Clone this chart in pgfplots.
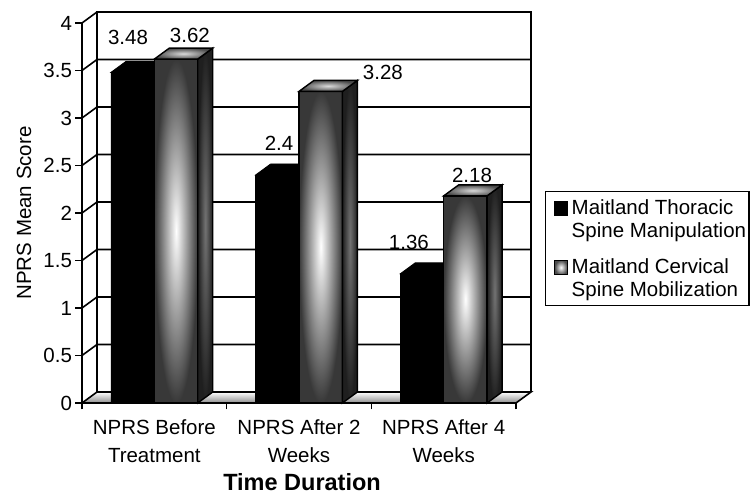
\documentclass[border=0pt]{standalone}
\usepackage{fontspec}
\setmainfont{Liberation Sans}
\usepackage{pgfplots}
\pgfplotsset{compat=1.18}
\begin{document}
\begin{tikzpicture}[x=1pt,y=1pt]
\path[use as bounding box] (0,0) rectangle (755,495);
\begin{axis}[
  at={(82pt,92pt)}, anchor=south west,
  scale only axis, width=434pt, height=380pt,
  xmin=0, xmax=3, ymin=0, ymax=4,
  clip=false,
  axis lines=left,
  axis line style={-, line width=1.6pt},
  tick style={line width=1.6pt, black},
  tick align=outside,
  major tick length=6.5pt,
  xtick={0,1,2,3},
  x tick label as interval,
  xticklabels={{NPRS Before\\Treatment},{NPRS After 2\\Weeks},{NPRS After 4\\Weeks}},
  xticklabel style={align=center, font=\fontsize{20.5}{28}\selectfont, yshift=-7pt},
  ytick={0,0.5,1,1.5,2,2.5,3,3.5,4},
  yticklabel style={font=\fontsize{20.5}{24}\selectfont},
  /pgf/number format/assume math mode=true,
  xlabel={Time Duration},
  every axis x label/.style={at={(axis description cs:0.507,-0.2295)}, anchor=base, inner sep=0pt, font=\bfseries\fontsize{23.5}{28}\selectfont},
  ylabel={NPRS Mean Score},
  every axis y label/.style={at={(axis description cs:-0.1336,0.5)}, rotate=90, anchor=center, font=\fontsize{20.5}{24}\selectfont},
  legend style={at={(axis description cs:1.0668,0.5579)}, anchor=north west, draw=black, line width=1.5pt,
    font=\fontsize{20.5}{22.6}\selectfont, cells={align=left}, row sep=16pt, inner xsep=1pt, inner ysep=6pt},
  legend cell align=left,
]
% walls
\draw[line width=1.6pt] (axis cs:0.1037,0.1158) -- (axis cs:0.1037,4.1158) -- (axis cs:3.1037,4.1158) -- (axis cs:3.1037,0.1158);
\draw[line width=1.6pt] (axis cs:0,4) -- (axis cs:0.1037,4.1158);
\draw[line width=1.6pt] (axis cs:0,0.5) -- (axis cs:0.1037,0.6158) -- (axis cs:3.1037,0.6158);
\draw[line width=1.6pt] (axis cs:0,1.0) -- (axis cs:0.1037,1.1158) -- (axis cs:3.1037,1.1158);
\draw[line width=1.6pt] (axis cs:0,1.5) -- (axis cs:0.1037,1.6158) -- (axis cs:3.1037,1.6158);
\draw[line width=1.6pt] (axis cs:0,2.0) -- (axis cs:0.1037,2.1158) -- (axis cs:3.1037,2.1158);
\draw[line width=1.6pt] (axis cs:0,2.5) -- (axis cs:0.1037,2.6158) -- (axis cs:3.1037,2.6158);
\draw[line width=1.6pt] (axis cs:0,3.0) -- (axis cs:0.1037,3.1158) -- (axis cs:3.1037,3.1158);
\draw[line width=1.6pt] (axis cs:0,3.5) -- (axis cs:0.1037,3.6158) -- (axis cs:3.1037,3.6158);
% floor
\addplot[draw=black, line width=1.6pt, top color=white, bottom color=black!45, forget plot] coordinates {(0,0) (0.1037,0.1158) (3.1037,0.1158) (3,0)} -- cycle;

% series 1: black
\addplot[ybar, bar width=0.3, bar shift=-0.15, fill=black, draw=black, line width=0.8pt,
  legend image code/.code={\pgfpathrectanglecorners{\pgfpoint{0pt}{3.5pt}}{\pgfpoint{23pt}{18pt}}\pgfusepath{discard}\draw[black, fill=black, line width=0.6pt] (8pt,3.5pt) rectangle (20.5pt,18pt);}]
  coordinates {(0.5,3.48) (1.5,2.4) (2.5,1.36)};
\addlegendentry{Maitland Thoracic\\Spine Manipulation}
\addplot[fill=black, draw=black, line width=0.8pt, forget plot] coordinates {(0.2,3.48) (0.3037,3.5958) (0.6037,3.5958) (0.5,3.48)} -- cycle;
\addplot[fill=black, draw=black, line width=0.8pt, forget plot] coordinates {(1.2,2.4) (1.3037,2.5158) (1.6037,2.5158) (1.5,2.4)} -- cycle;
\addplot[fill=black, draw=black, line width=0.8pt, forget plot] coordinates {(2.2,1.36) (2.3037,1.4758) (2.6037,1.4758) (2.5,1.36)} -- cycle;

% series 2: gradient grey (one plot per bar so each bar gets its own shading)
\addplot[ybar, bar width=0.3, bar shift=0.15, draw=black, line width=1.4pt, shading=radial, inner color=white, outer color=black!78,
  legend image code/.code={\pgfpathrectanglecorners{\pgfpoint{0pt}{3.5pt}}{\pgfpoint{23pt}{18pt}}\pgfusepath{discard}\draw[black, line width=0.8pt, shading=radial, inner color=white, outer color=black!70] (8pt,3.5pt) rectangle (20.5pt,18pt);}]
  coordinates {(0.5,3.62)};
\addlegendentry{Maitland Cervical\\Spine Mobilization}
\addplot[ybar, bar width=0.3, bar shift=0.15, draw=black, line width=1.4pt, shading=radial, inner color=white, outer color=black!78, forget plot]
  coordinates {(1.5,3.28)};
\addplot[ybar, bar width=0.3, bar shift=0.15, draw=black, line width=1.4pt, shading=radial, inner color=white, outer color=black!78, forget plot]
  coordinates {(2.5,2.18)};
% side faces
\addplot[draw=black, line width=1.4pt, shading=radial, inner color=black!55, outer color=black!88, forget plot] coordinates {(0.8,0) (0.9037,0.1158) (0.9037,3.7358) (0.8,3.62)} -- cycle;
\addplot[draw=black, line width=1.4pt, shading=radial, inner color=black!55, outer color=black!88, forget plot] coordinates {(1.8,0) (1.9037,0.1158) (1.9037,3.3958) (1.8,3.28)} -- cycle;
\addplot[draw=black, line width=1.4pt, shading=radial, inner color=black!55, outer color=black!88, forget plot] coordinates {(2.8,0) (2.9037,0.1158) (2.9037,2.2958) (2.8,2.18)} -- cycle;
% top faces
\addplot[draw=black, line width=1.4pt, shading=radial, inner color=black!15, outer color=black!70, forget plot] coordinates {(0.5,3.62) (0.6037,3.7358) (0.9037,3.7358) (0.8,3.62)} -- cycle;
\addplot[draw=black, line width=1.4pt, shading=radial, inner color=black!15, outer color=black!70, forget plot] coordinates {(1.5,3.28) (1.6037,3.3958) (1.9037,3.3958) (1.8,3.28)} -- cycle;
\addplot[draw=black, line width=1.4pt, shading=radial, inner color=black!15, outer color=black!70, forget plot] coordinates {(2.5,2.18) (2.6037,2.2958) (2.9037,2.2958) (2.8,2.18)} -- cycle;

% value labels
\node[font=\fontsize{20.5}{24}\selectfont] at (axis cs:0.318,3.853) {3.48};
\node[font=\fontsize{20.5}{24}\selectfont] at (axis cs:0.746,3.874) {3.62};
\node[font=\fontsize{20.5}{24}\selectfont] at (axis cs:1.362,2.737) {2.4};
\node[font=\fontsize{20.5}{24}\selectfont] at (axis cs:2.080,3.484) {3.28};
\node[font=\fontsize{20.5}{24}\selectfont] at (axis cs:2.260,1.695) {1.36};
\node[font=\fontsize{20.5}{24}\selectfont] at (axis cs:2.696,2.400) {2.18};
\end{axis}
\end{tikzpicture}
\end{document}
